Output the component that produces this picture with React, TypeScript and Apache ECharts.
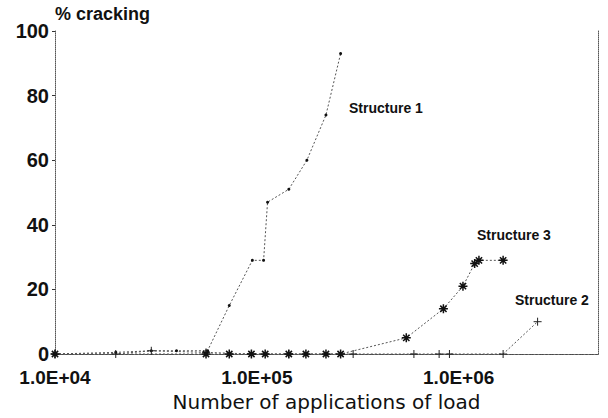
import React, { useEffect, useRef } from "react";
import * as echarts from "echarts";

// Data
const structure1X = [1e4, 2e4, 3e4, 4e4, 5.7e4, 7.3e4, 9.5e4, 1.08e5, 1.13e5, 1.44e5, 1.77e5, 2.2e5, 2.6e5];
const structure1Y = [0, 0.5, 1, 1, 1, 15, 29, 29, 47, 51, 60, 74, 93];

const structure3X = [1e4, 5.6e4, 7.3e4, 9.4e4, 1.1e5, 1.44e5, 1.75e5, 2.2e5, 2.6e5, 5.5e5, 8.4e5, 1.05e6, 1.2e6, 1.26e6, 1.66e6];
const structure3Y = [0, 0, 0, 0, 0, 0, 0, 0, 0, 5, 14, 21, 28, 29, 29];

const structure2X = [1e4, 2e4, 3e4, 5.6e4, 9.4e4, 1.44e5, 3e5, 6e5, 8e5, 9e5, 1.66e6, 2.46e6];
const structure2Y = [0, 0, 1, 0.5, 0, 0, 0, 0, 0, 0, 0, 10];

const seriesNames = ["Structure 1", "Structure 2", "Structure 3"];
const yTicks = [0, 20, 40, 60, 80, 100];
const xMin = 1e4;
const xMax = 4.9e6;

const zip = (xs: number[], ys: number[]) => xs.map((x, i) => [x, ys[i]]);

const ASTERISK = "path://M5 0 L5 10 M0 5 L10 5 M1.5 1.5 L8.5 8.5 M8.5 1.5 L1.5 8.5";
const PLUS = "path://M5 0 L5 10 M0 5 L10 5";

const FONT = "'Liberation Sans', Arial, sans-serif";

export default function App() {
  const ref = useRef<HTMLDivElement>(null);
  useEffect(() => {
    if (!ref.current) return;
    const chart = echarts.init(ref.current, undefined, { renderer: "svg" });
    const lineStyle = { color: "#555", width: 1, type: [2, 2] as any };
    chart.setOption({
      animation: false,
      backgroundColor: "#fff",
      grid: { left: 55, right: 10, top: 31, bottom: 64, containLabel: false },
      xAxis: [
        {
          type: "log",
          min: xMin,
          max: xMax,
          logBase: 10,
          name: "Number of applications of load",
          nameLocation: "middle",
          nameGap: 35,
          nameTextStyle: { fontFamily: "'DejaVu Sans', sans-serif", fontSize: 20, color: "#111" },
          axisLine: { show: true, lineStyle: { color: "#333", width: 1, type: [3, 2] } },
          axisTick: { show: false },
          splitLine: { show: false },
          minorTick: { show: false },
          axisLabel: {
            margin: 14,
            showMaxLabel: false,
            fontFamily: FONT,
            fontWeight: "bold",
            fontSize: 19,
            color: "#111",
            formatter: (v: number) => {
              const e = Math.log10(v);
              if (Math.abs(e - Math.round(e)) > 1e-6) return "";
              return "1.0E+" + String(Math.round(e)).padStart(2, "0");
            },
          },
        },
        {
          type: "log",
          min: xMin,
          max: xMax,
          position: "top",
          axisLine: { show: true, lineStyle: { color: "#555", width: 1, type: "dotted" } },
          axisTick: { show: false },
          axisLabel: { show: false },
          splitLine: { show: false },
        },
      ],
      yAxis: [
        {
          type: "value",
          min: yTicks[0],
          max: yTicks[yTicks.length - 1],
          interval: 20,
          name: "% cracking",
          nameLocation: "end",
          nameGap: 8,
          nameTextStyle: {
            fontFamily: FONT,
            fontWeight: "bold",
            fontSize: 18,
            color: "#111",
            align: "left",
            verticalAlign: "bottom",
          },
          axisLine: { show: true, lineStyle: { color: "#555", width: 1, type: "dotted" } },
          axisTick: { show: true, length: 3, lineStyle: { color: "#333" } },
          splitLine: { show: false },
          axisLabel: { margin: 6, fontFamily: FONT, fontWeight: "bold", fontSize: 20, color: "#111" },
        },
        {
          type: "value",
          min: 0,
          max: 100,
          position: "right",
          axisLine: { show: true, lineStyle: { color: "#555", width: 1, type: "dotted" } },
          axisTick: { show: false },
          axisLabel: { show: false },
          splitLine: { show: false },
        },
      ],
      series: [
        {
          name: seriesNames[0],
          type: "line",
          data: zip(structure1X, structure1Y),
          symbol: "circle",
          symbolSize: 3,
          itemStyle: { color: "#111" },
          lineStyle,
        },
        {
          name: seriesNames[1],
          type: "line",
          data: zip(structure2X, structure2Y),
          symbol: PLUS,
          symbolSize: 8,
          itemStyle: { color: "none", borderColor: "#222", borderWidth: 1 },
          lineStyle,
        },
        {
          name: seriesNames[2],
          type: "line",
          data: zip(structure3X, structure3Y),
          symbol: ASTERISK,
          symbolSize: 9,
          itemStyle: { color: "none", borderColor: "#111", borderWidth: 1.5 },
          lineStyle,
        },
      ],
      graphic: [
        { type: "text", left: 349, top: 101, style: { text: seriesNames[0], font: `bold 14px ${FONT}`, fill: "#111" } },
        { type: "text", left: 477, top: 228, style: { text: seriesNames[2], font: `bold 14px ${FONT}`, fill: "#111" } },
        { type: "text", left: 515, top: 293, style: { text: seriesNames[1], font: `bold 14px ${FONT}`, fill: "#111" } },
      ],
    });
    return () => chart.dispose();
  }, []);
  return <div ref={ref} style={{ width: 608, height: 418, position: "absolute", left: 0, top: 0 }} />;
}
